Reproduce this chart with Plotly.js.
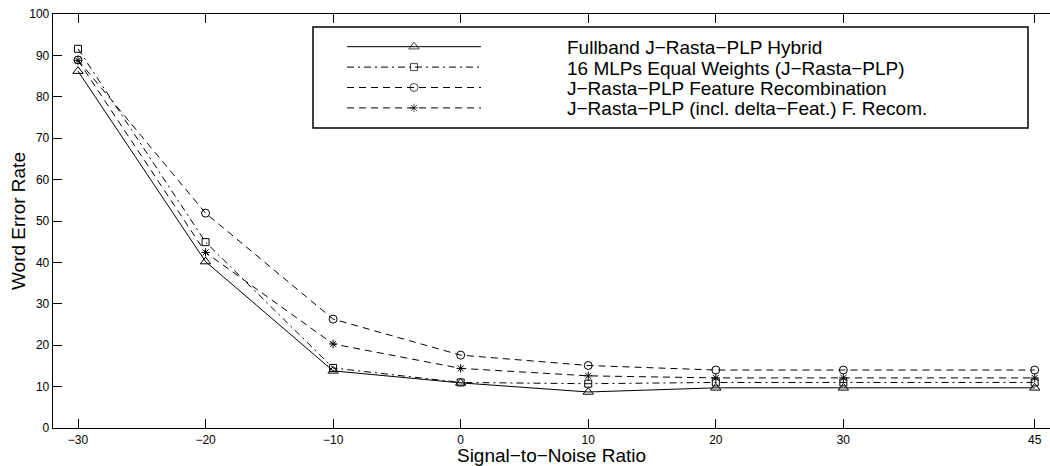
<!DOCTYPE html>
<html>
<head>
<meta charset="utf-8">
<script src="https://cdn.plot.ly/plotly-3.0.1.min.js"></script>
<style>html,body{margin:0;padding:0;background:#fff;}#chart{width:1050px;height:466px;}</style>
</head>
<body>
<div id="chart"></div>
<script>
// ---- data ----
var snr = [-30, -20, -10, 0, 10, 20, 30, 45];
var xTickLabels = ['\u221230', '\u221220', '\u221210', '0', '10', '20', '30', '45'];
var yTicks = [0, 10, 20, 30, 40, 50, 60, 70, 80, 90, 100];

var seriesNames = [
  'Fullband J\u2212Rasta\u2212PLP Hybrid',
  '16 MLPs Equal Weights (J\u2212Rasta\u2212PLP)',
  'J\u2212Rasta\u2212PLP Feature Recombination',
  'J\u2212Rasta\u2212PLP (incl. delta\u2212Feat.) F. Recom.'
];
var werFullband   = [86.2, 40.2, 13.8, 10.9, 8.7, 9.7, 9.7, 9.7];
var werEqualMLP   = [91.6, 44.9, 14.5, 11.0, 10.7, 11.0, 11.0, 11.0];
var werFeatRecomb = [88.9, 51.9, 26.3, 17.6, 15.1, 14.0, 14.0, 14.0];
var werDeltaRecomb= [88.8, 42.4, 20.3, 14.4, 12.6, 12.1, 12.1, 12.1];

// ---- styles ----
var FONT = 'Liberation Sans, Arial, Helvetica, sans-serif';
var styles = [
  {dash: 'solid',               symbol: 'triangle-up-open', size: 9},
  {dash: '7px,4px,2px,4px',     symbol: 'square-open',      size: 7},
  {dash: '7px,5px',             symbol: 'circle-open',      size: 8},
  {dash: '7px,5px',             symbol: 'asterisk-open',    size: 7}
];
var values = [werFullband, werEqualMLP, werFeatRecomb, werDeltaRecomb];

// plot area in pixels
var W = 1050, H = 466;
var M = {l: 53, r: 0, t: 14, b: 38};

var traces = values.map(function (v, i) {
  return {
    type: 'scatter', mode: 'lines+markers', x: snr, y: v, name: seriesNames[i],
    line: {color: '#000', width: 1, dash: styles[i].dash},
    marker: {symbol: styles[i].symbol, size: styles[i].size, color: '#000', line: {color: '#000', width: 1}},
    showlegend: false, cliponaxis: false
  };
});

// ---- hand-drawn legend (pixel coordinates on an overlay axis) ----
var LEG = {x0: 313, x1: 1028, y0: 27, y1: 128, lineX0: 347, lineX1: 481, textX: 565, rowY0: 46.7, rowStep: 20.4};
var annotations = [];
styles.forEach(function (s, i) {
  var ry = LEG.rowY0 + i * LEG.rowStep;
  var mid = (LEG.lineX0 + LEG.lineX1) / 2;
  traces.push({
    type: 'scatter', mode: 'lines+markers', xaxis: 'x2', yaxis: 'y2',
    x: [LEG.lineX0, mid, LEG.lineX1], y: [ry, ry, ry],
    line: {color: '#000', width: 1, dash: s.dash},
    marker: {symbol: s.symbol, size: [0, s.size, 0], color: '#000', line: {color: '#000', width: 1}},
    showlegend: false, hoverinfo: 'skip'
  });
  annotations.push({
    xref: 'x2', yref: 'y2', x: LEG.textX, y: ry + 1, xanchor: 'left', yanchor: 'middle',
    text: seriesNames[i], showarrow: false, font: {family: FONT, size: 19, color: '#000'}
  });
});

// y-axis title as a rotated annotation, centred 18px from the left edge
var Y_TITLE_PX = 18;
annotations.push({
  xref: 'paper', yref: 'paper', x: (Y_TITLE_PX - M.l) / (W - M.l - M.r), y: 0.5,
  xanchor: 'center', yanchor: 'middle',
  textangle: -90, text: 'Word Error Rate', showarrow: false,
  font: {family: FONT, size: 19, color: '#000'}
});

var layout = {
  width: W, height: H,
  margin: M,
  paper_bgcolor: '#fff', plot_bgcolor: '#fff',
  font: {family: FONT, color: '#000'},
  xaxis: {
    range: [-31.96, 46.2], tickmode: 'array', tickvals: snr, ticktext: xTickLabels,
    ticks: 'inside', ticklen: 9, tickcolor: '#000', tickwidth: 1,
    showline: true, linecolor: '#000', linewidth: 1.3, mirror: 'ticks',
    showgrid: false, zeroline: false,
    tickfont: {family: FONT, size: 12, color: '#000'},
    title: {text: 'Signal\u2212to\u2212Noise Ratio', font: {family: FONT, size: 19, color: '#000'}, standoff: 2}
  },
  yaxis: {
    range: [0, 100], tickmode: 'array', tickvals: yTicks,
    ticks: 'inside', ticklen: 9, tickcolor: '#000', tickwidth: 1,
    showline: true, linecolor: '#000', linewidth: 1.3,
    showgrid: false, zeroline: false,
    tickfont: {family: FONT, size: 12, color: '#000'}
  },
  xaxis2: {overlaying: 'x', range: [M.l, W - M.r], visible: false, fixedrange: true},
  yaxis2: {overlaying: 'y', range: [H - M.b, M.t], visible: false, fixedrange: true},
  shapes: [{
    type: 'rect', xref: 'x2', yref: 'y2', x0: LEG.x0, x1: LEG.x1, y0: LEG.y0, y1: LEG.y1,
    line: {color: '#000', width: 1.5}, fillcolor: 'rgba(0,0,0,0)', layer: 'below'
  }],
  annotations: annotations,
  showlegend: false
};

Plotly.newPlot('chart', traces, layout, {staticPlot: true, displayModeBar: false});
</script>
</body>
</html>
